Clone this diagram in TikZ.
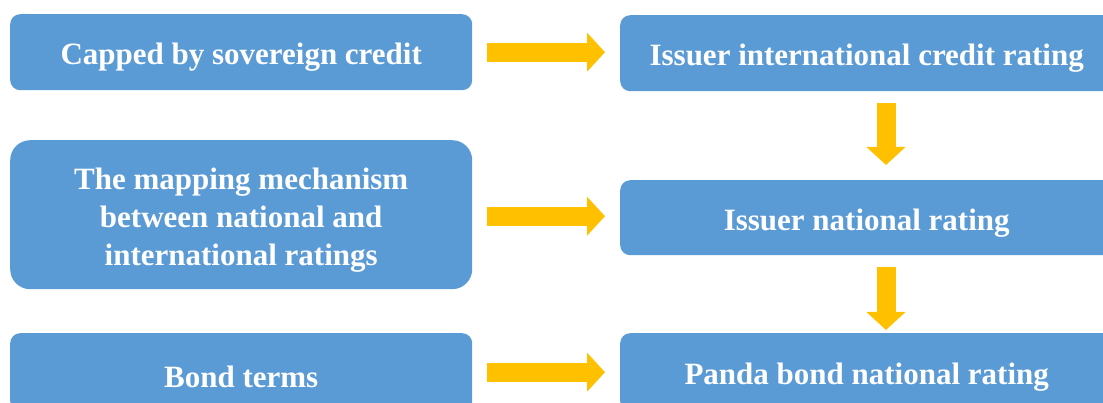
\documentclass[tikz,border=0pt]{standalone}
\usepackage{fontspec}
\setmainfont{Liberation Serif}
\usetikzlibrary{arrows.meta,calc}
\definecolor{boxblue}{HTML}{5B9BD5}
\definecolor{arrowgold}{HTML}{FFC000}
\tikzset{
  box/.style={fill=boxblue, rounded corners=10pt, inner sep=0pt, anchor=north west},
  boxtext/.style={text=white, font=\bfseries\fontsize{31}{38}\selectfont,
    align=center, inner sep=0pt, yshift=-5pt},
  blockarrow/.style={draw=arrowgold, line width=19pt,
    -{Triangle[width=38pt,length=18pt]}}
}
\begin{document}
\begin{tikzpicture}[x=1pt,y=-1pt]
\useasboundingbox (0,0) rectangle (1103,403);
\clip (0,0) rectangle (1103,403);
% left column
\node[box, minimum width=462pt, minimum height=76pt,
  label={[boxtext]center:Capped by sovereign credit}] (L1) at (10,14) {};
\node[box, rounded corners=20pt, minimum width=462pt, minimum height=149pt,
  label={[boxtext]center:The mapping mechanism\\between national and\\international ratings}] (L2) at (10,140) {};
\node[box, minimum width=462pt, minimum height=78pt,
  label={[boxtext]center:Bond terms}] (L3) at (10,333) {};
% right column
\node[box, minimum width=493pt, minimum height=76pt,
  label={[boxtext]center:Issuer international credit rating}] (R1) at (620,15) {};
\node[box, minimum width=493pt, minimum height=75pt,
  label={[boxtext]center:Issuer national rating}] (R2) at (620,180) {};
\node[box, minimum width=493pt, minimum height=78pt,
  label={[boxtext]center:Panda bond national rating}] (R3) at (620,333) {};
% horizontal arrows
\draw[blockarrow] ([xshift=15pt]L1.east) -- ([xshift=-15pt]L1.east -| R1.west);
\draw[blockarrow] ($(L2.east)+(15,1.5)$) -- ($(L2.east -| R2.west)+(-15,1.5)$);
\draw[blockarrow] ([xshift=15pt]L3.east) -- ([xshift=-15pt]L3.east -| R3.west);
% vertical arrows
\coordinate (c1) at (886,0);
\draw[blockarrow] ($(R1.south -| c1)+(0,12)$) -- ($(R2.north -| c1)+(0,-15)$);
\draw[blockarrow] ($(R2.south -| c1)+(0,12)$) -- ($(R3.north -| c1)+(0,-3)$);
\end{tikzpicture}
\end{document}
